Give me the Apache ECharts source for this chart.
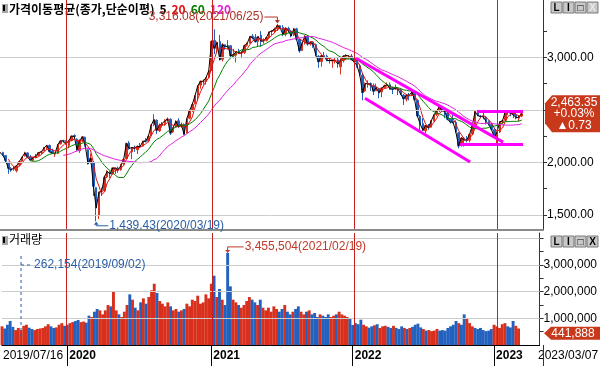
<!DOCTYPE html>
<html><head><meta charset="utf-8">
<script src="https://cdn.jsdelivr.net/npm/echarts@6/dist/echarts.min.js"></script>
<style>html,body{margin:0;padding:0;background:#fff}#c{width:600px;height:366px}</style>
</head><body><div id="c"></div>
<script>
// ---- data (weekly, KOSPI 2019/07/16 - 2023/03/07) ----
const firstDate = '2019/07/16';
const lastDate = '2023/03/07';
const yearStarts = [24, 77, 129, 181];
const yearLabels = ['2020', '2021', '2022', '2023'];
const opens = [
2090,2094,2066,2001,1943,1935,1920,1975,2012,2060,
2090,2050,2020,2050,2065,2095,2110,2140,2160,2110,
2080,2085,2175,2205,2200,2160,2210,2255,2220,2110,
2215,2240,2120,2000,2000,1760,1500,1720,1730,1860,
1900,1890,1930,1945,1930,1990,2035,2185,2100,2140,
2120,2160,2155,2205,2205,2255,2360,2400,2300,2350,
2370,2400,2410,2290,2335,2395,2340,2360,2280,2420,
2500,2560,2640,2735,2770,2770,2810,2875,3160,3080,
3150,2980,3120,3110,3110,3015,3020,3055,3040,3045,
3115,3135,3200,3190,3150,3210,3155,3160,3190,3245,
3250,3270,3300,3285,3220,3275,3250,3210,3270,3170,
3065,3135,3200,3125,3140,3120,3010,2960,3015,3010,
2970,2965,2970,2975,2910,2970,3010,3000,3010,2990,
2950,2920,2830,2680,2740,2750,2730,2680,2700,2670,
2710,2730,2740,2700,2700,2700,2690,2640,2600,2640,
2640,2670,2590,2440,2370,2300,2350,2335,2395,2455,
2490,2530,2490,2470,2410,2390,2380,2280,2160,2230,
2215,2210,2270,2350,2480,2440,2435,2430,2390,2360,
2310,2230,2290,2385,2400,2480,2470,2470,2450,2420,2440];
const closes = [
2094,2066,2017,1943,1927,1948,1967,2009,2049,2091,
2049,2021,2044,2060,2093,2100,2137,2162,2101,2087,
2081,2170,2204,2204,2176,2206,2250,2246,2119,2211,
2243,2162,1987,2040,1771,1566,1717,1725,1860,1914,
1889,1947,1945,1927,1970,2029,2181,2132,2141,2134,
2152,2150,2201,2200,2249,2351,2407,2304,2353,2368,
2396,2412,2278,2327,2391,2341,2360,2267,2416,2493,
2553,2633,2731,2770,2772,2806,2873,3152,3085,3140,
2976,3120,3100,3107,3012,3026,3054,3039,3041,3112,
3131,3198,3186,3147,3197,3153,3156,3188,3240,3249,
3267,3302,3281,3217,3276,3254,3202,3270,3171,3060,
3133,3201,3125,3140,3125,3019,2956,3015,3006,2970,
2969,2968,2971,2936,2968,3010,3017,3012,2977,2954,
2921,2834,2663,2750,2747,2744,2676,2713,2661,2707,
2729,2739,2700,2696,2704,2695,2644,2604,2639,2638,
2670,2595,2440,2366,2305,2350,2330,2393,2451,2490,
2527,2492,2481,2409,2384,2382,2290,2155,2232,2212,
2213,2268,2348,2483,2444,2437,2434,2389,2360,2313,
2236,2289,2386,2395,2484,2480,2469,2451,2423,2432,2463.35];
const lows = [
2066,2060,1998,1891,1910,1920,1905,1960,2005,2055,
2040,2015,2010,2040,2060,2075,2105,2120,2095,2080,
2052,2080,2170,2185,2168,2135,2200,2235,2110,2090,
2190,2150,1980,1990,1680,1439,1460,1680,1730,1850,
1850,1885,1890,1900,1920,1975,2030,2120,2030,2100,
2080,2135,2150,2190,2190,2250,2345,2270,2290,2330,
2350,2390,2260,2280,2330,2330,2330,2260,2275,2410,
2480,2550,2590,2700,2740,2740,2800,2870,3030,3040,
2970,2960,3070,3080,2990,2990,2950,3030,2990,3030,
3100,3130,3170,3140,3100,3100,3130,3150,3170,3210,
3230,3250,3270,3200,3200,3230,3190,3200,3160,3043,
3060,3120,3110,3110,3090,3010,2900,2910,2990,2960,
2940,2900,2940,2900,2837,2950,2980,2980,2970,2930,
2900,2820,2591,2670,2710,2680,2640,2680,2610,2620,
2700,2720,2690,2650,2690,2640,2640,2546,2580,2590,
2630,2590,2430,2291,2300,2276,2310,2330,2390,2440,
2480,2480,2420,2400,2370,2370,2280,2134,2150,2150,
2190,2190,2260,2330,2440,2420,2410,2360,2350,2300,
2229,2180,2280,2360,2390,2450,2440,2420,2410,2390,2430];
const highs = [
2096,2101,2068,2003,1955,1966,1970,2012,2052,2101,
2096,2070,2050,2080,2098,2106,2147,2165,2170,2130,
2095,2175,2210,2215,2210,2212,2255,2267,2230,2215,
2250,2245,2125,2085,2010,1765,1720,1760,1875,1925,
1920,1950,1950,1960,1985,2035,2185,2202,2145,2160,
2160,2185,2205,2230,2255,2360,2458,2410,2370,2385,
2410,2428,2420,2335,2400,2420,2380,2370,2420,2500,
2560,2640,2735,2780,2790,2812,2878,3161,3266,3150,
3213,3135,3120,3163,3110,3080,3060,3080,3060,3120,
3140,3200,3220,3220,3200,3250,3180,3190,3245,3260,
3280,3316,3305,3305,3285,3290,3260,3280,3280,3175,
3140,3210,3210,3150,3150,3130,3020,3020,3050,3025,
3000,2975,3000,3000,2990,3020,3030,3020,3030,3000,
2990,2935,2850,2760,2780,2760,2750,2750,2710,2715,
2740,2760,2760,2720,2740,2715,2700,2650,2650,2660,
2680,2675,2600,2450,2420,2355,2365,2400,2455,2495,
2530,2535,2500,2480,2420,2450,2400,2290,2240,2240,
2250,2270,2350,2490,2485,2450,2500,2440,2400,2370,
2330,2290,2390,2405,2490,2490,2480,2480,2470,2440,2470];
// weekly peak of daily volume, in thousands of the displayed unit
const volK = [
700,620,760,900,680,560,640,560,720,760,650,600,560,600,620,640,700,780,700,640,660,760,820,720,
760,820,860,900,940,860,880,840,1100,1050,1250,1350,1300,
1150,1300,1500,1450,2000,1300,1150,1050,1250,1500,1900,1700,1400,1300,
1600,1750,1550,1800,2050,2300,1950,1650,1550,1450,1600,1450,1300,1350,1250,1300,1350,1550,1450,1700,1650,1850,1550,1600,1900,1750,
2300,2600,1800,2100,1700,1500,3455,2200,1700,1600,1500,1400,1500,1650,1800,
1700,1600,1500,1700,1400,1300,1400,1250,1450,1350,1250,1350,1500,1250,1150,1250,1350,1450,1250,1150,1250,1300,1150,1200,1050,1150,1100,1050,1150,1050,1100,1150,1250,1150,1100,1050,1000,
750,820,780,950,760,700,650,700,740,780,640,700,720,680,640,720,640,600,700,640,600,640,680,760,800,660,600,540,560,520,540,600,540,560,540,640,700,760,900,820,760,1150,1000,820,700,640,600,640,560,520,540,600,
760,700,640,780,820,700,660,900,720,620];
const maWeeks = [1, 4, 12, 24];          // ≈ 5, 20, 60, 120 trading days
const maNames = ['5', '20', '60', '120'];
const maColors = ['#000000', '#e01010', '#008000', '#e020e0'];
const priceLabels = [1500, 2000, 2500, 3000];
const priceTickMarks = [1500, 1750, 2000, 2250, 2500, 2750, 3000, 3250];
const volLabels = [1000, 2000, 3000];
const volTickMarks = [500, 1000, 1500, 2000, 2500, 3000, 3500, 4000];
const volGrid = [1000, 2000, 3000, 4000];
const lastTag = ['2,463.35', '+0.03%', '▲0.73'];
const lastVolume = 441.888;
const lastVolumeText = '441,888';
const peak = {idx: 101, value: 3316.08, text: '3,316.08(2021/06/25)'};
const trough = {idx: 35, value: 1439.43, text: '1,439.43(2020/03/19)'};
const volMax = {idx: 83, value: 3455.504, text: '3,455,504(2021/02/19)'};
const volMin = {idx: 7, value: 262.154, text: '262,154(2019/09/02)'};
const trendLines = [
  [[129.6, 2991], [183.2, 2193]],
  [[132.9, 2610], [171.2, 2003]],
  [[173.7, 2488], [190.5, 2488]],
  [[167.5, 2174], [190.5, 2174]]
];

// ---- chart ----
const N = closes.length;
const upColor = '#d8301c', downColor = '#2361be';
const axFont = 'Liberation Sans, Arial, sans-serif';
const krFont = 'Noto Sans CJK KR, sans-serif';
function ma(p) {
  const out = [];
  for (let i = p - 1; i < N; i++) {
    let s = 0;
    for (let j = i - p + 1; j <= i; j++) s += closes[j];
    out.push([i, s / p]);
  }
  return out;
}
const candle = closes.map((c, i) => [i, opens[i], c, lows[i], highs[i]]);
const vol = volK.map((v, i) => ({value: [i, v], itemStyle: {color: closes[i] >= opens[i] ? upColor : downColor}}));
const xMin = -0.05, xMax = 197.75;
const fmt2 = v => v.toLocaleString('en-US', {minimumFractionDigits: 2, maximumFractionDigits: 2});
const fmtVol = v => (v * 1000).toLocaleString('en-US');

const chart = echarts.init(document.getElementById('c'), null, {renderer: 'canvas', width: 600, height: 366});
const gridLines = vals => vals.map(v => ({yAxis: v, lineStyle: {color: '#cccccc', width: 1, type: 'solid'}}));
const host = (xi, data, z) => ({type: 'line', xAxisIndex: xi, yAxisIndex: xi, data: [], z: z, silent: true,
  markLine: {silent: true, symbol: 'none', label: {show: false}, animation: false, data: data}});
const option = {
  animation: false,
  backgroundColor: '#fff',
  title: [
    {text: '{t|가격이동평균(종가,단순이평)} {k|' + maNames[0] + '} {r|' + maNames[1] + '} {g|' + maNames[2] + '} {m|' + maNames[3] + '}',
     left: 9, top: 0, padding: 0,
     textStyle: {rich: {
       t: {fontFamily: krFont, fontSize: 12, color: '#000'},
       k: {fontFamily: krFont, fontSize: 12, color: maColors[0]},
       r: {fontFamily: krFont, fontSize: 12, color: maColors[1]},
       g: {fontFamily: krFont, fontSize: 12, color: maColors[2]},
       m: {fontFamily: krFont, fontSize: 12, color: maColors[3]}}}},
    {text: '거래량', left: 9, top: 233, padding: 0,
     textStyle: {fontFamily: krFont, fontSize: 12, fontWeight: 'normal', color: '#000'}}
  ],
  grid: [
    {left: 0, top: 0, width: 543, height: 230},
    {left: 0, top: 233, width: 543, height: 112}
  ],
  xAxis: [
    {type: 'value', gridIndex: 0, min: xMin, max: xMax,
     axisLine: {show: true, onZero: false, lineStyle: {color: '#8a8a8a', width: 2}},
     axisTick: {show: false}, axisLabel: {show: false}, splitLine: {show: false}},
    {type: 'value', gridIndex: 1, min: xMin, max: xMax,
     axisLine: {show: true, onZero: false, lineStyle: {color: '#000', width: 1}},
     axisTick: {show: true, customValues: yearStarts, length: 21, lineStyle: {color: '#000'}},
     axisLabel: {customValues: [0].concat(yearStarts), align: 'left', margin: 5,
       formatter: v => v === 0 ? '{n|' + firstDate + '}' : '{b|' + yearLabels[yearStarts.indexOf(v)] + '}',
       rich: {n: {fontFamily: axFont, fontSize: 12, color: '#000', padding: [0, 0, 0, 1]},
              b: {fontFamily: axFont, fontSize: 12, fontWeight: 'bold', color: '#000', padding: [0, 0, 0, 2]}}},
     splitLine: {show: false}}
  ],
  yAxis: [
    {type: 'value', gridIndex: 0, position: 'right', min: 1356.5, max: 3544.7,
     axisLine: {show: true, onZero: false, lineStyle: {color: '#333'}},
     axisTick: {show: true, customValues: priceTickMarks, length: 4, lineStyle: {color: '#333'}},
     axisLabel: {customValues: priceLabels, formatter: fmt2, margin: 4, fontFamily: axFont, fontSize: 12, color: '#000'},
     splitLine: {show: false}},
    {type: 'value', gridIndex: 1, position: 'right', min: 0, max: 4202.6,
     axisLine: {show: true, onZero: false, lineStyle: {color: '#333'}},
     axisTick: {show: true, customValues: volTickMarks, length: 4, lineStyle: {color: '#333'}},
     axisLabel: {customValues: volLabels, formatter: fmtVol, margin: 4, fontFamily: axFont, fontSize: 12, color: '#000'},
     splitLine: {show: false}}
  ],
  series: [
    host(0, gridLines(priceLabels), 1),
    host(1, gridLines(volGrid), 1),
    {type: 'candlestick', xAxisIndex: 0, yAxisIndex: 0, data: candle, z: 3,
     encode: {x: 0, y: [1, 2, 3, 4]}, barWidth: 2,
     itemStyle: {color: upColor, color0: downColor, borderColor: upColor, borderColor0: downColor, borderWidth: 1}},
    ...maWeeks.map((p, k) => ({type: 'line', xAxisIndex: 0, yAxisIndex: 0, data: ma(p), z: 4,
      showSymbol: false, symbol: 'none', lineStyle: {color: maColors[k], width: 1}})),
    {type: 'bar', xAxisIndex: 1, yAxisIndex: 1, data: vol, barWidth: 2.9, z: 3},
    {type: 'line', xAxisIndex: 0, yAxisIndex: 0, data: [], z: 9, silent: true,
     markLine: {silent: true, symbol: 'none', label: {show: false}, animation: false,
       data: trendLines.map(l => [{coord: l[0]}, {coord: l[1]}]),
       lineStyle: {color: '#ff00ff', width: 3, type: 'solid'}}}
  ]
};
chart.setOption(option);

// ---- overlay annotations positioned through the chart scales ----
const P = (g, x, y) => chart.convertToPixel({gridIndex: g}, [x, y]);
const G = [];
function txt(x, y, s, color, align, size, extra) {
  G.push({type: 'text', x: x, y: y, z: 50, silent: true,
    style: Object.assign({text: s, fill: color, font: (size || 12) + 'px ' + axFont, textAlign: align || 'left', textVerticalAlign: 'middle'}, extra || {})});
}
function line(pts, color, dash, z) {
  G.push({type: 'polyline', z: z || 50, silent: true, shape: {points: pts}, style: {stroke: color, lineWidth: 1, fill: null, lineDash: dash || null}});
}
function poly(pts, color) {
  G.push({type: 'polygon', z: 50, silent: true, shape: {points: pts}, style: {fill: color}});
}
// year separators in both panels
yearStarts.forEach(i => {
  const a = P(0, i, 3544.7), b = P(0, i, 1356.5), c = P(1, i, 4202.6), d = P(1, i, 0);
  const x = Math.round(a[0]) + 0.5;
  line([[x, a[1]], [x, b[1] - 1]], '#c81e1e', null, 20);
  line([[x, c[1]], [x, d[1]]], '#c81e1e', null, 20);
});
{
  const p = P(0, peak.idx, peak.value);
  const c = '#b03228', yy = p[1] - 7;
  txt(p[0] - 14, yy, peak.text, c, 'right');
  line([[p[0] - 13, yy], [p[0], yy], [p[0], p[1] - 3]], c);
  poly([[p[0] - 2.5, p[1] - 4], [p[0] + 2.5, p[1] - 4], [p[0], p[1] - 0.5]], c);
}
{
  const p = P(0, trough.idx, trough.value);
  const c = '#2a5ea8', yy = p[1] + 4.5;
  poly([[p[0] - 2.5, p[1] + 3.5], [p[0] + 2.5, p[1] + 3.5], [p[0], p[1] + 0.5]], c);
  line([[p[0], p[1] + 3], [p[0], yy], [p[0] + 12, yy]], c);
  txt(p[0] + 13, yy, trough.text, c, 'left');
}
{
  const p = P(1, volMax.idx, volMax.value);
  const c = '#c0392b', yy = p[1] - 6;
  txt(p[0] + 17, yy, volMax.text, c, 'left');
  line([[p[0] + 16, yy], [p[0], yy], [p[0], p[1] - 2]], c);
  poly([[p[0] - 2.5, p[1] - 3], [p[0] + 2.5, p[1] - 3], [p[0], p[1]]], c);
}
{
  const p = P(1, volMin.idx, volMin.value);
  const c = '#2a5ea8', yy = p[1] - 73;
  line([[p[0], p[1] - 82], [p[0], p[1]]], c, [3, 3]);
  line([[p[0], yy], [p[0] + 11, yy]], c, [3, 3]);
  txt(p[0] + 13, yy, volMin.text, c, 'left');
}
{
  const p = P(0, N - 1, closes[N - 1]);
  const t = p[1], c = '#c8391c';
  poly([[552, t - 18.5], [545, t - 10.5], [545, t + 9.5], [552, t + 18.5], [600, t + 18.5], [600, t - 18.5]], c);
  txt(574, t - 11, lastTag[0], '#fff', 'center');
  txt(574, t + 0.5, lastTag[1], '#fff', 'center');
  txt(574, t + 12, lastTag[2], '#fff', 'center');
}
{
  const p = P(1, N - 1, lastVolume);
  const t = p[1], c = '#c8391c';
  poly([[551, t - 6.5], [544, t], [551, t + 6.5], [600, t + 6.5], [600, t - 6.5]], c);
  txt(573, t, lastVolumeText, '#fff', 'center');
}
txt(538, 356, lastDate, '#000', 'left');
line([[543.5, 345], [543.5, 366]], '#333');
function icon(y) {
  G.push({type: 'rect', z: 50, silent: true, shape: {x: 2, y: y, width: 6, height: 9}, style: {fill: '#a8a8a8'}});
  G.push({type: 'rect', z: 51, silent: true, shape: {x: 3, y: y + 1, width: 2, height: 6}, style: {fill: '#000'}});
}
icon(4); icon(236);
function buttons(y, xDim) {
  const glyphs = ['L', 'I', '□', 'X'];
  for (let i = 0; i < 4; i++) {
    const x = 551 + i * 12;
    G.push({type: 'rect', z: 50, silent: true, shape: {x: x, y: y, width: 11, height: 11},
      style: {fill: '#c8c8c8', stroke: '#7a7a7a', lineWidth: 1}});
    txt(x + 5.5, y + 6, glyphs[i], (i === 3 && xDim) ? '#e8e8e8' : '#000', 'center', 10, {font: 'bold 10px ' + axFont});
  }
}
buttons(2, true); buttons(236, false);
chart.setOption({graphic: G});
</script></body></html>
